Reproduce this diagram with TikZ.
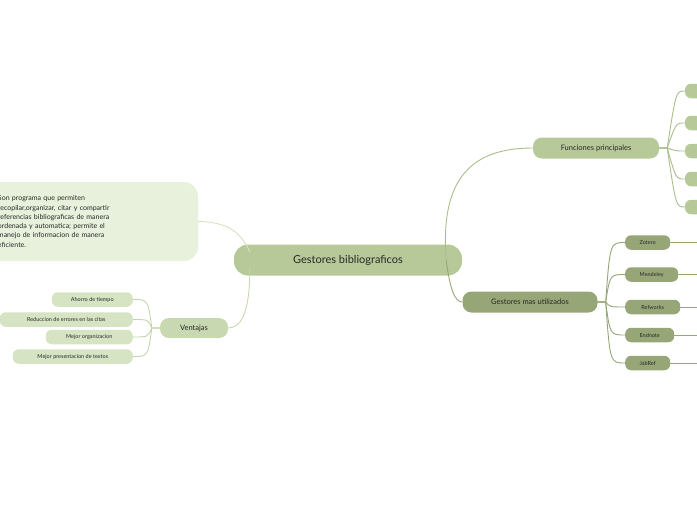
\documentclass[tikz,border=0pt]{standalone}
\usepackage{fontspec}
\setmainfont{Lato}
\usetikzlibrary{positioning}
\definecolor{rootgreen}{RGB}{183,201,152}
\definecolor{darkgreen}{RGB}{150,166,118}
\definecolor{midgreen}{RGB}{200,216,176}
\definecolor{palegreen}{RGB}{214,228,196}
\definecolor{descgreen}{RGB}{231,241,219}
\definecolor{linegreen}{RGB}{170,190,140}
\definecolor{textgray}{RGB}{40,40,40}
\tikzset{
  bubble/.style={rounded corners=7pt, inner sep=0pt, text=textgray},
  leafbox/.style={bubble, fill=palegreen, font=\fontsize{5.5}{6}\selectfont, minimum height=14.5pt, rounded corners=6pt},
  linkline/.style={draw=linegreen, line width=0.9pt},
}
\begin{document}
\begin{tikzpicture}[x=1pt,y=-1pt]
  \useasboundingbox (0,0) rectangle (697,520);
  \clip (0,0) rectangle (697,520);

  % central topic
  \node[bubble, fill=rootgreen, minimum width=228pt, minimum height=31pt, rounded corners=14pt,
        font=\fontsize{11}{13}\selectfont] (root) at (348,260) {Gestores bibliograficos};

  % main branches
  \node[bubble, fill=rootgreen, minimum width=126pt, minimum height=21pt, rounded corners=9pt,
        font=\fontsize{7.5}{9}\selectfont] (func) at (596,148) {Funciones principales};
  \node[bubble, fill=darkgreen, minimum width=135pt, minimum height=21pt, rounded corners=9pt,
        font=\fontsize{7.5}{9}\selectfont] (gest) at (530,302) {Gestores mas utilizados};
  \node[bubble, fill=midgreen, minimum width=68pt, minimum height=20pt, rounded corners=9pt,
        font=\fontsize{7.5}{9}\selectfont] (vent) at (194,328) {Ventajas};
  \node[bubble, fill=descgreen, minimum width=210pt, minimum height=79pt, rounded corners=14pt,
        align=left, text width=190pt, font=\fontsize{7}{9.3}\selectfont] (desc) at (93,221.5)
    {Son programa que permiten\\recopilar,organizar, citar y compartir\\referencias bibliograficas de manera\\ordenada y automatica; permite el\\manejo de informacion de manera\\eficiente.};

  \draw[linkline] (root.east) ++(-16,0) .. controls (440,180) and (470,148) .. (func.west);
  \draw[linkline, draw=darkgreen] (root.east) ++(-16,0) .. controls (450,290) and (455,302) .. (gest.west);
  \draw[linkline, draw=descgreen!70!linegreen] (root.west) ++(16,-8) .. controls (240,230) and (225,222) .. (desc.east);
  \draw[linkline, draw=midgreen] (root.west) ++(16,8) .. controls (250,315) and (240,328) .. (vent.east);

  % functions (cut at the edge)
  \foreach \y [count=\i] in {91,123,151,179,207}{
    \node[leafbox, fill=rootgreen, minimum width=30pt] (f\i) at (700,\y) {};
    \draw[linkline] (func.east) -- ++(8,0) .. controls (676,\y) .. (f\i.west);
  }

  % managers
  \foreach \name/\w/\y [count=\i] in {Zotero/45/242.5,Mendeley/53/274.5,Refworks/55/307,Endnote/49/335,JabRef/45/363}{
    \node[leafbox, fill=darkgreen, minimum width=\w pt, anchor=west] (g\i) at (625,\y) {\name};
    \node[leafbox, fill=darkgreen, minimum width=20pt, anchor=west] (h\i) at (697,\y) {};
    \draw[linkline, draw=darkgreen] (gest.east) -- ++(8,0) .. controls (610,\y) .. (g\i.west);
    \draw[linkline, draw=darkgreen] (g\i.east) -- (h\i.west);
  }

  % advantages
  \foreach \txt/\l/\y [count=\i] in {Ahorro de tiempo/52/299.5,Reduccion de errores en las citas/0/319.5,Mejor organizacion/46/337,Mejor presentacion de textos/13/356.5}{
    \pgfmathsetmacro\boxw{133-\l}
    \node[leafbox, minimum width=\boxw pt, anchor=east] (v\i) at (133,\y) {\txt};
    \draw[linkline, draw=palegreen!60!linegreen] (vent.west) -- ++(-8,0) .. controls (148,\y) .. (v\i.east);
  }
\end{tikzpicture}
\end{document}
